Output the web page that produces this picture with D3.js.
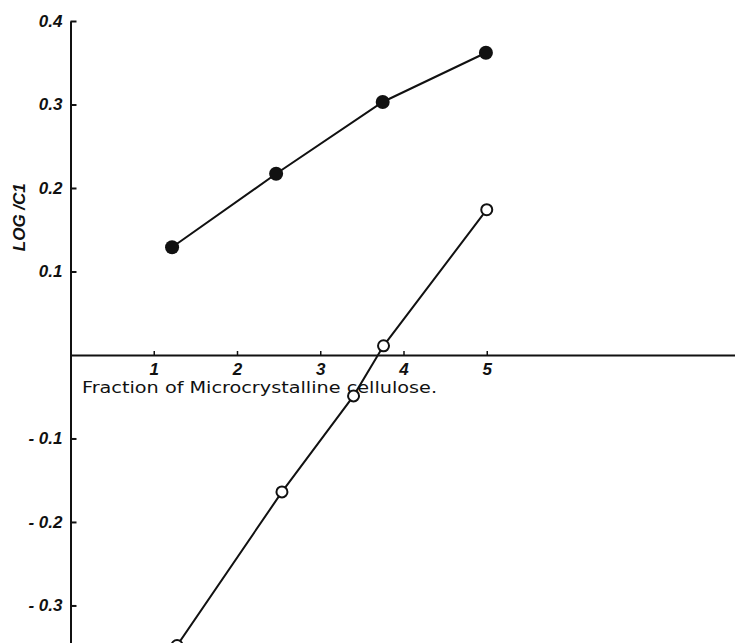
<!DOCTYPE html>
<html>
<head>
<meta charset="utf-8">
<script src="https://cdn.jsdelivr.net/npm/d3@7"></script>
<style>
  html, body { margin: 0; padding: 0; background: #fff; }
  svg { display: block; }
</style>
</head>
<body>
<svg id="chart" width="735" height="643"></svg>
<script>
// Fraction of microcrystalline cellulose for each measured sample
const filledX = [1.22, 2.47, 3.75, 4.99];
const filledY = [0.129, 0.217, 0.303, 0.362];
const openX = [1.28, 2.54, 3.40, 3.76, 5.0];
const openY = [-0.348, -0.164, -0.049, 0.011, 0.174];

const xTicks = [1, 2, 3, 4, 5];
const yTicks = [-0.3, -0.2, -0.1, 0.1, 0.2, 0.3, 0.4];
const xTitle = "Fraction of Microcrystalline cellulose.";
const yTitle = "LOG /C1";

const svg = d3.select("#chart");
const x = d3.scaleLinear().domain([0, 8]).range([70.5, 736.5]);
const y = d3.scaleLinear().domain([-0.35, 0.4]).range([647.2, 21]);

const ink = "#111";

function styleTickText(g) {
  g.selectAll(".tick text")
    .style("font-family", "'Liberation Sans', Arial, sans-serif")
    .style("font-style", "italic")
    .style("font-weight", "bold")
    .style("font-size", "17px")
    .style("fill", ink);
}

// Y axis: ticks point inward (right), labels on the left
const yAxis = d3.axisLeft(y)
  .tickValues(yTicks)
  .tickSizeInner(-6)
  .tickSizeOuter(0)
  .tickPadding(8)
  .tickFormat(d => d < 0 ? "- " + d3.format(".1f")(-d) : d3.format(".1f")(d));

const gy = svg.append("g").attr("transform", `translate(${x(0)},0)`).call(yAxis);
gy.select(".domain").attr("stroke", ink).attr("stroke-width", 2);
gy.selectAll(".tick line").attr("stroke", ink).attr("stroke-width", 2);
styleTickText(gy);

// X axis drawn through zero, small ticks above the line
const xAxis = d3.axisBottom(x)
  .tickValues(xTicks)
  .tickSizeInner(-4)
  .tickSizeOuter(0)
  .tickPadding(8)
  .tickFormat(d3.format("d"));

const gx = svg.append("g").attr("transform", `translate(0,${y(0)})`).call(xAxis);
gx.select(".domain").attr("stroke", ink).attr("stroke-width", 2);
gx.selectAll(".tick line").attr("stroke", ink).attr("stroke-width", 1.5);
styleTickText(gx);

// Axis titles
svg.append("text")
  .attr("x", 82)
  .attr("y", y(0) + 38)
  .attr("textLength", 355)
  .attr("lengthAdjust", "spacingAndGlyphs")
  .style("font-family", "'DejaVu Sans', sans-serif")
  .style("font-size", "16px")
  .style("fill", ink)
  .text(xTitle);

svg.append("text")
  .attr("transform", `translate(25,${y(0.165)}) rotate(-90)`)
  .attr("text-anchor", "middle")
  .style("font-family", "'Liberation Sans', Arial, sans-serif")
  .style("font-style", "italic")
  .style("font-weight", "bold")
  .style("font-size", "17px")
  .style("fill", ink)
  .text(yTitle);

const line = d3.line().x(d => x(d[0])).y(d => y(d[1]));

const filled = filledX.map((v, i) => [v, filledY[i]]);
const open = openX.map((v, i) => [v, openY[i]]);

svg.append("path").datum(filled).attr("d", line)
  .attr("fill", "none").attr("stroke", ink).attr("stroke-width", 2);
svg.append("path").datum(open).attr("d", line)
  .attr("fill", "none").attr("stroke", ink).attr("stroke-width", 2);

svg.selectAll("circle.filled").data(filled).join("circle")
  .attr("class", "filled")
  .attr("cx", d => x(d[0])).attr("cy", d => y(d[1]))
  .attr("r", 7).attr("fill", ink);

svg.selectAll("circle.open").data(open).join("circle")
  .attr("class", "open")
  .attr("cx", d => x(d[0])).attr("cy", d => y(d[1]))
  .attr("r", 5.5).attr("fill", "#fff").attr("stroke", ink).attr("stroke-width", 2);
</script>
</body>
</html>
